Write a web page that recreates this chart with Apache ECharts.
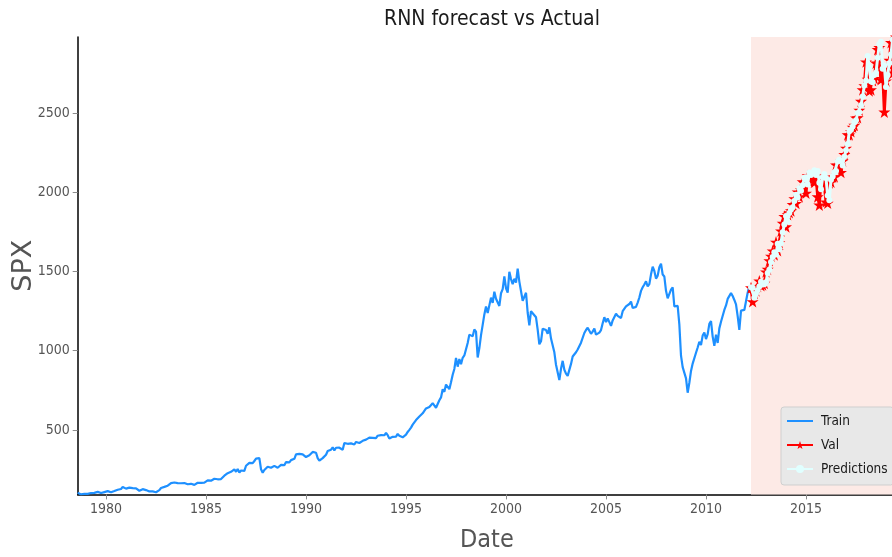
<!DOCTYPE html>
<html>
<head>
<meta charset="utf-8">
<title>RNN forecast vs Actual</title>
<script src="https://cdn.jsdelivr.net/npm/echarts@6/dist/echarts.min.js"></script>
<style>
  html, body { margin: 0; padding: 0; background: #ffffff; }
  #chart { width: 892px; height: 557px; }
</style>
</head>
<body>
<div id="chart"></div>
<script>
// S&P 500 monthly closes, first value is August 1978
const trainStart = { year: 1978, month: 8 };
const trainValues = [
  103.3, 102.5, 93.2, 94.7, 96.1,
  99.9, 96.3, 101.6, 101.8, 99.1, 102.9, 103.8, 109.3, 109.3, 101.8, 106.2, 107.9,
  114.2, 113.7, 102.1, 106.3, 111.2, 114.2, 121.7, 122.4, 125.5, 127.5, 140.5, 135.8,
  129.6, 131.3, 136.0, 132.8, 133.0, 131.2, 130.9, 122.8, 116.2, 121.9, 126.4, 122.6,
  120.4, 113.1, 112.0, 116.4, 111.9, 109.6, 107.1, 119.5, 120.4, 133.7, 138.5, 140.6,
  145.3, 148.1, 153.0, 164.4, 162.4, 168.1, 162.6, 164.4, 166.1, 163.6, 166.4, 164.9,
  163.4, 157.1, 159.2, 160.1, 150.6, 153.2, 150.7, 166.7, 166.1, 166.1, 163.6, 167.2,
  179.6, 181.2, 180.7, 179.8, 189.6, 191.9, 190.9, 188.6, 182.1, 189.8, 202.2, 211.3,
  211.8, 226.9, 238.9, 235.5, 247.4, 250.8, 236.1, 252.9, 231.3, 244.0, 249.2, 242.2,
  274.1, 284.2, 291.7, 288.4, 290.1, 304.0, 318.7, 329.8, 321.8, 251.8, 230.3, 247.1,
  257.1, 267.8, 258.9, 261.3, 262.2, 273.5, 272.0, 261.5, 271.9, 279.0, 273.7, 277.7,
  297.5, 288.9, 294.9, 309.6, 320.5, 318.0, 346.1, 351.5, 349.2, 340.4, 346.0, 353.4,
  329.1, 331.9, 339.9, 330.8, 361.2, 358.0, 356.2, 322.6, 306.1, 304.0, 322.2, 330.2,
  343.9, 367.1, 375.2, 375.3, 389.8, 371.2, 387.8, 395.4, 387.9, 392.5, 375.2, 417.1,
  408.8, 412.7, 403.7, 415.0, 415.4, 408.1, 424.2, 414.0, 417.8, 418.7, 431.4, 435.7,
  438.8, 443.4, 451.7, 440.2, 450.2, 451.0, 448.1, 463.6, 458.9, 467.8, 461.8, 466.5,
  481.6, 467.1, 445.8, 450.9, 456.5, 444.3, 458.3, 475.5, 462.7, 472.4, 453.7, 459.3,
  470.4, 487.4, 500.7, 514.7, 533.4, 544.8, 562.1, 561.9, 584.4, 581.5, 605.4, 615.9,
  636.0, 640.4, 645.5, 654.2, 669.1, 670.6, 640.0, 652.0, 687.3, 705.3, 757.0, 740.7,
  786.2, 790.8, 757.1, 801.3, 848.3, 885.1, 954.3, 899.5, 947.3, 914.6, 955.4, 970.4,
  980.3, 1049.3, 1101.8, 1111.8, 1090.8, 1133.8, 1120.7, 957.3, 1017.0, 1098.7, 1163.6, 1229.2,
  1279.6, 1238.3, 1286.4, 1335.2, 1301.8, 1372.7, 1328.7, 1320.4, 1282.7, 1362.9, 1388.9, 1469.3,
  1394.5, 1366.4, 1498.6, 1452.4, 1420.6, 1454.6, 1430.8, 1517.7, 1436.5, 1429.4, 1315.2, 1320.3,
  1366.0, 1239.9, 1160.3, 1249.5, 1255.8, 1224.4, 1211.2, 1133.6, 1040.9, 1059.8, 1139.5, 1148.1,
  1130.2, 1106.7, 1147.4, 1076.9, 1067.1, 989.8, 911.6, 916.1, 815.3, 885.8, 936.3, 879.8,
  855.7, 841.2, 848.2, 916.9, 963.6, 974.5, 990.3, 1008.0, 996.0, 1050.7, 1058.2, 1111.9,
  1131.1, 1144.9, 1126.2, 1107.3, 1120.7, 1140.8, 1101.7, 1104.2, 1114.6, 1130.2, 1173.8, 1211.9,
  1181.3, 1203.6, 1180.6, 1156.8, 1191.5, 1191.3, 1234.2, 1220.3, 1228.8, 1207.0, 1249.5, 1248.3,
  1280.1, 1280.7, 1294.9, 1310.6, 1270.1, 1270.2, 1276.7, 1303.8, 1335.9, 1377.9, 1400.6, 1418.3,
  1438.2, 1406.8, 1420.9, 1482.4, 1530.6, 1503.4, 1455.3, 1474.0, 1526.8, 1549.4, 1481.1, 1468.4,
  1378.6, 1330.6, 1322.7, 1385.6, 1400.4, 1280.0, 1267.4, 1282.8, 1166.4, 968.8, 896.2, 903.3,
  825.9, 735.1, 797.9, 872.8, 919.1, 919.3, 987.5, 1020.6, 1057.1, 1036.2, 1095.6, 1115.1,
  1073.9, 1104.5, 1169.4, 1186.7, 1089.4, 1030.7, 1101.6, 1049.3, 1141.2, 1183.3, 1180.6, 1257.6,
  1286.1, 1327.2, 1325.8, 1363.6, 1345.2, 1320.6, 1292.3, 1218.9, 1131.4, 1253.3, 1247.0, 1257.6,
  1312.4, 1365.7, 1408.5
];

// Validation window, first value is April 2012
const valStart = { year: 2012, month: 4 };
const valValues = [
  1397.9, 1310.3, 1362.2, 1379.3, 1406.6, 1440.7, 1412.2, 1416.2, 1426.2,
  1498.1, 1514.7, 1569.2, 1597.6, 1630.7, 1606.3, 1685.7, 1633.0, 1681.6, 1756.5, 1805.8, 1848.4,
  1782.6, 1859.5, 1872.3, 1884.0, 1923.6, 1960.2, 1930.7, 2003.4, 1972.3, 2018.1, 2067.6, 2058.9,
  1995.0, 2104.5, 2067.9, 2085.5, 2107.4, 2063.1, 2103.8, 1972.2, 1920.0, 2079.4, 2080.4, 2043.9,
  1940.2, 1932.2, 2059.7, 2065.3, 2097.0, 2098.9, 2173.6, 2171.0, 2168.3, 2126.2, 2198.8, 2238.8,
  2278.9, 2363.6, 2362.7, 2384.2, 2411.8, 2423.4, 2470.3, 2471.7, 2519.4, 2575.3, 2647.6, 2673.6,
  2823.8, 2713.8, 2640.9, 2648.1, 2705.3, 2718.4, 2816.3, 2901.5, 2914.0, 2711.7, 2760.2, 2506.9,
  2704.1, 2784.5, 2834.4, 2945.8, 2752.1, 2941.8, 2980.4
];

// RNN one-step predictions over the validation window
const predValues = [
  1400, 1398, 1335, 1360, 1382, 1405, 1436, 1418, 1420,
  1432, 1490, 1512, 1560, 1592, 1622, 1608, 1676, 1640, 1680, 1748, 1797,
  1850, 1815, 1870, 1892, 1905, 1945, 1985, 1968, 2025, 2010, 2045, 2092,
  2095, 2050, 2125, 2110, 2120, 2140, 2110, 2135, 2060, 2020, 2095, 2115,
  2090, 1980, 1950, 2080, 2100, 2125, 2135, 2195, 2205, 2200, 2170, 2225,
  2265, 2305, 2385, 2395, 2415, 2440, 2455, 2500, 2505, 2550, 2605, 2675,
  2705, 2860, 2790, 2700, 2695, 2740, 2755, 2850, 2935, 2950, 2780, 2800,
  2665, 2740, 2815, 2870, 2965, 2820, 2960
];

const yearTicks = [1980, 1985, 1990, 1995, 2000, 2005, 2010, 2015];
const spxTicks = [500, 1000, 1500, 2000, 2500];

// month index -> fractional year (month 1 = Jan)
function toPairs(start, values) {
  return values.map((v, i) => [start.year + (start.month - 1 + i) / 12, v]);
}

const trainData = toPairs(trainStart, trainValues);
const valData = toPairs(valStart, valValues);
const predData = toPairs(valStart, predValues);

const xMin = trainData[0][0];
const xMax = valData[valData.length - 1][0];
const valBegin = valData[0][0];

const narrow = "'DejaVu Sans Condensed', 'Liberation Sans Narrow', 'DejaVu Sans', sans-serif";
const starPath = 'path://M50,0 L61.8,35.1 L98.5,35.1 L68.9,57 L79.9,91.5 L50,70.2 L20.1,91.5 L31.1,57 L1.5,35.1 L38.2,35.1 Z';

const chart = echarts.init(document.getElementById('chart'), null, { renderer: 'canvas' });

chart.setOption({
  animation: false,
  backgroundColor: '#ffffff',
  title: {
    text: 'RNN forecast vs Actual',
    left: 487,
    top: 4,
    textAlign: 'center',
    textStyle: { fontFamily: narrow, fontSize: 21, fontWeight: 'normal', color: '#1a1a1a' }
  },
  grid: {
    left: 77.7, right: -4, top: 37, bottom: 62.6,
    containLabel: false,
    outerBoundsMode: 'none'
  },
  legend: {
    data: [
      { name: 'Train', itemStyle: { color: 'rgba(0,0,0,0)', borderWidth: 0 } },
      { name: 'Val' },
      { name: 'Predictions' }
    ],
    orient: 'vertical',
    left: 781,
    top: 407,
    itemWidth: 26,
    itemHeight: 10,
    itemGap: 10,
    padding: [7, 6, 9, 5],
    backgroundColor: '#e8e8e8',
    borderColor: '#cfcfcf',
    borderWidth: 1,
    borderRadius: 3,
    textStyle: { fontFamily: narrow, fontSize: 13.5, color: '#1a1a1a', padding: [0, 0, 0, 3] }
  },
  xAxis: {
    type: 'value',
    min: xMin,
    max: xMax,
    name: 'Date',
    nameLocation: 'middle',
    nameGap: 34,
    nameMoveOverlap: false,
    nameTextStyle: { fontFamily: narrow, fontSize: 25, color: '#555555' },
    splitLine: { show: false },
    axisLine: { show: true, onZero: false, lineStyle: { color: '#000000', width: 1.5 } },
    axisTick: { show: true, length: 5, customValues: yearTicks, lineStyle: { color: '#8c8c8c', width: 1 } },
    axisLabel: {
      customValues: yearTicks,
      margin: 8,
      fontFamily: narrow,
      fontSize: 14,
      color: '#555555',
      formatter: v => String(Math.round(v))
    }
  },
  yAxis: {
    type: 'value',
    min: 'dataMin',
    max: 'dataMax',
    name: 'SPX',
    nameLocation: 'middle',
    nameGap: 40,
    nameMoveOverlap: false,
    nameRotate: 90,
    nameTextStyle: { fontFamily: "'DejaVu Sans', sans-serif", fontSize: 27, color: '#555555' },
    splitLine: { show: false },
    axisLine: { show: true, onZero: false, lineStyle: { color: '#000000', width: 1.5 } },
    axisTick: { show: true, length: 5, customValues: spxTicks, lineStyle: { color: '#8c8c8c', width: 1 } },
    axisLabel: {
      customValues: spxTicks,
      margin: 8,
      fontFamily: narrow,
      fontSize: 14,
      color: '#555555',
      formatter: v => String(Math.round(v))
    }
  },
  series: [
    {
      name: 'Train',
      type: 'line',
      data: trainData,
      symbol: 'none',
      z: 2,
      lineStyle: { color: '#1e90ff', width: 2.2 },
      itemStyle: { color: '#1e90ff' },
      markArea: {
        silent: true,
        itemStyle: { color: '#fdeae6' },
        data: [[{ xAxis: valBegin }, { xAxis: xMax }]]
      }
    },
    {
      name: 'Val',
      type: 'line',
      data: valData,
      symbol: starPath,
      symbolSize: 12,
      showAllSymbol: true,
      z: 3,
      lineStyle: { color: '#ff0000', width: 3 },
      itemStyle: { color: '#ff0000', borderWidth: 0 }
    },
    {
      name: 'Predictions',
      type: 'line',
      data: predData,
      symbol: 'circle',
      symbolSize: 6,
      showAllSymbol: true,
      z: 4,
      lineStyle: { color: '#e0ffff', width: 3 },
      itemStyle: { color: '#e0ffff', borderWidth: 0 }
    }
  ]
});
</script>
</body>
</html>
